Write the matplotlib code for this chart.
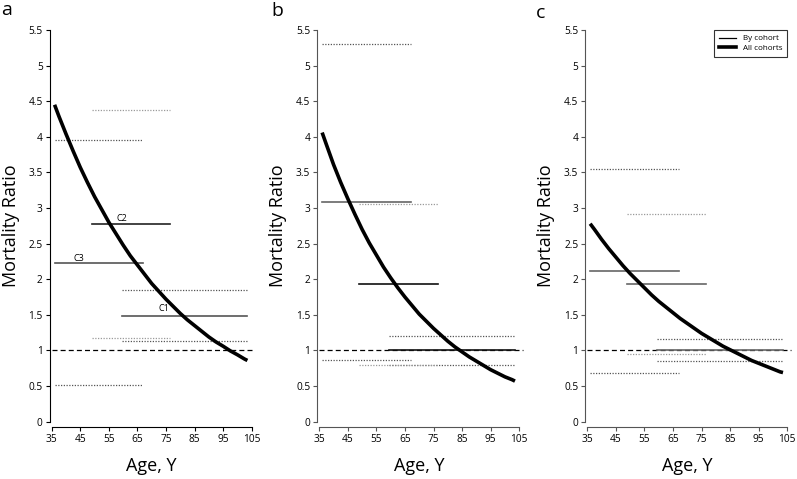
import matplotlib
matplotlib.use("Agg")
import matplotlib.pyplot as plt
from matplotlib.lines import Line2D

plt.rcParams['font.family'] = ['Open Sans', 'DejaVu Sans']

# fitted all-cohort curves
curve_ages = [36, 37.5, 40, 42.5, 45, 47.5, 50, 52.5, 55, 57.5, 60, 62.5, 65, 67.5, 70,
              72.5, 75, 77.5, 80, 82.5, 85, 87.5, 90, 92.5, 95, 97.5, 100, 102.5, 103.5]
curve_a = [4.45, 4.29, 4.04, 3.80, 3.57, 3.36, 3.16, 2.98, 2.80, 2.64, 2.48, 2.33, 2.20, 2.07, 1.94,
           1.83, 1.72, 1.62, 1.52, 1.43, 1.35, 1.27, 1.19, 1.12, 1.06, 0.995, 0.94, 0.88, 0.86]
curve_b = [4.06, 3.89, 3.61, 3.36, 3.13, 2.91, 2.70, 2.51, 2.34, 2.17, 2.02, 1.88, 1.75, 1.63, 1.51,
           1.41, 1.31, 1.22, 1.13, 1.05, 0.98, 0.91, 0.85, 0.79, 0.73, 0.68, 0.63, 0.59, 0.57]
curve_c = [2.78, 2.70, 2.56, 2.43, 2.31, 2.19, 2.08, 1.98, 1.88, 1.78, 1.69, 1.61, 1.53, 1.45, 1.38,
           1.31, 1.24, 1.18, 1.12, 1.06, 1.01, 0.96, 0.91, 0.86, 0.82, 0.78, 0.74, 0.70, 0.69]

# cohorts C1, C2, C3: age span
cohorts = ['C1', 'C2', 'C3']
cohort_start = [59.5, 49, 36]
cohort_end = [103.5, 76.5, 67]

# per-cohort estimates with lower / upper bounds
est_a = [1.49, 2.78, 2.23]
lo_a = [1.13, 1.17, 0.51]
hi_a = [1.85, 4.38, 3.95]

est_b = [1.00, 1.93, 3.09]
lo_b = [0.80, 0.79, 0.87]
hi_b = [1.21, 3.06, 5.31]

est_c = [1.01, 1.94, 2.12]
lo_c = [0.85, 0.95, 0.69]
hi_c = [1.16, 2.92, 3.55]

panels = [
    ('a', curve_a, est_a, lo_a, hi_a, ['#555555', '#222222', '#555555'], 'black'),
    ('b', curve_b, est_b, lo_b, hi_b, ['#111111', '#111111', '#666666'], '#555555'),
    ('c', curve_c, est_c, lo_c, hi_c, ['#666666', '#666666', '#666666'], '#555555'),
]
dot_colors = ['#555555', '#9a9a9a', '#555555']
lefts = [0.0649, 0.4006, 0.7369]
letter_pos = [(0.002, 0.969), (0.340, 0.967), (0.672, 0.962)]

fig = plt.figure(figsize=(7.97, 4.79), dpi=100)

for i, (letter, curve, est, lo, hi, solid_cols, spine_col) in enumerate(panels):
    ax = fig.add_axes([lefts[i], 0.1196, 0.2509, 0.8178])
    ax.set_xlim(35, 105)
    ax.set_ylim(0, 5.5)

    ax.plot([35, 106.3], [1, 1], color='black', lw=0.9, ls=(0, (4, 2.5)), clip_on=False)

    for k in range(len(cohorts)):
        xs = [cohort_start[k], cohort_end[k]]
        ax.plot(xs, [lo[k], lo[k]], color=dot_colors[k], lw=0.9, ls=(0, (1, 1.2)))
        ax.plot(xs, [hi[k], hi[k]], color=dot_colors[k], lw=0.9, ls=(0, (1, 1.2)))
        ax.plot(xs, [est[k], est[k]], color=solid_cols[k], lw=1.2)

    ax.plot(curve_ages, curve, color='black', lw=2.6, solid_capstyle='butt',
            solid_joinstyle='round')

    if letter == 'a':
        ax.text(74.3, 1.59, 'C1', fontsize=6.5, ha='center', va='center')
        ax.text(59.5, 2.86, 'C2', fontsize=6.5, ha='center', va='center')
        ax.text(44.6, 2.29, 'C3', fontsize=6.5, ha='center', va='center')

    if letter == 'c':
        handles = [Line2D([], [], color='black', lw=0.9),
                   Line2D([], [], color='black', lw=2.6)]
        leg = ax.legend(handles, ['By cohort', 'All cohorts'], loc='upper right',
                        fontsize=5.8, frameon=True, fancybox=False, handlelength=2.2,
                        borderaxespad=0.0, borderpad=0.6, labelspacing=0.2,
                        handletextpad=0.8, bbox_to_anchor=(1.0, 1.0))
        leg.get_frame().set_edgecolor('black')
        leg.get_frame().set_linewidth(0.8)

    for side in ['top', 'right']:
        ax.spines[side].set_visible(False)
    ax.spines['left'].set_position(('outward', 1.5))
    ax.spines['bottom'].set_position(('outward', 4))
    ax.spines['left'].set_bounds(0, 5.5)
    ax.spines['bottom'].set_bounds(35, 105)
    ax.spines['left'].set_color(spine_col)
    ax.spines['bottom'].set_color(spine_col)

    ax.set_yticks([0, 0.5, 1, 1.5, 2, 2.5, 3, 3.5, 4, 4.5, 5, 5.5])
    ax.set_yticklabels(['0', '0.5', '1', '1.5', '2', '2.5', '3', '3.5', '4', '4.5', '5', '5.5'])
    ax.set_xticks(range(35, 106, 10))
    ax.tick_params(axis='both', labelsize=7.3, length=3, width=0.8, pad=2, color=spine_col)

    ax.set_ylabel('Mortality Ratio', fontsize=13)
    ax.yaxis.set_label_coords(-0.16, 0.5)
    ax.set_xlabel('Age, Y', fontsize=13)
    ax.xaxis.set_label_coords(0.5, -0.09)

    fig.text(letter_pos[i][0], letter_pos[i][1], letter, fontsize=14, ha='left', va='baseline')

fig.savefig('out.png', dpi=100)
